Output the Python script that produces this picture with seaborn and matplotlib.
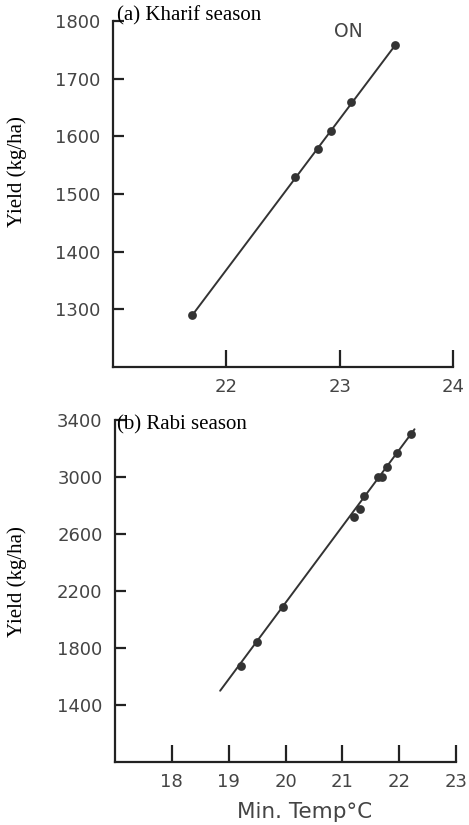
import matplotlib
matplotlib.use("Agg")
import matplotlib.pyplot as plt
import seaborn as sns
import pandas as pd

# Kharif season observations (min. temperature vs yield)
kharif_temp = [21.70, 22.61, 22.81, 22.92, 23.10, 23.49]
kharif_yield = [1290, 1529, 1578, 1609, 1659, 1758]
kharif_fit_temp = [21.70, 23.49]
kharif_fit_yield = [1290, 1758]

# Rabi season observations
rabi_temp = [19.21, 19.49, 19.96, 21.21, 21.31, 21.39, 21.62, 21.70, 21.79, 21.96, 22.20]
rabi_yield = [1672, 1839, 2090, 2717, 2773, 2864, 3003, 3003, 3073, 3170, 3303]
rabi_fit_temp = [18.85, 22.27]
rabi_fit_yield = [1500, 3335]

kharif_xticks = [22, 23, 24]
kharif_yticks = [1300, 1400, 1500, 1600, 1700, 1800]
rabi_xticks = [18, 19, 20, 21, 22, 23]
rabi_yticks = [1400, 1800, 2200, 2600, 3000, 3400]

sns.set_style("ticks")
plt.rcParams["font.family"] = ["DejaVu Sans"]

ink = "#333333"
W, H = 469, 825
fig = plt.figure(figsize=(W / 100, H / 100), dpi=100)
fig.patch.set_facecolor("white")


def px_axes(left, top, right, bottom):
    return fig.add_axes([left / W, 1 - bottom / H, (right - left) / W, (bottom - top) / H])


def style_axes(ax, xlim, ylim, xticks, yticks):
    ax.set_xlim(*xlim)
    ax.set_ylim(*ylim)
    ax.set_xticks(xticks)
    ax.set_yticks(yticks)
    for side in ("top", "right"):
        ax.spines[side].set_visible(False)
    for side in ("left", "bottom"):
        ax.spines[side].set_linewidth(1.6)
        ax.spines[side].set_color("#222222")
    ax.tick_params(axis="x", direction="in", length=12, width=1.6, color="#222222",
                   pad=8, labelsize=13, labelcolor="#444444")
    ax.tick_params(axis="y", direction="in", length=8, width=1.6, color="#222222",
                   pad=9, labelsize=13, labelcolor="#444444")
    ax.set_xlabel("")
    ax.set_ylabel("")
    ax.set_facecolor("white")


# (a) Kharif season
ax1 = px_axes(113, 21, 453, 367)
kharif_fit = pd.DataFrame({"temp": kharif_fit_temp, "yield": kharif_fit_yield})
kharif_obs = pd.DataFrame({"temp": kharif_temp, "yield": kharif_yield})
sns.lineplot(data=kharif_fit, x="temp", y="yield", ax=ax1, color=ink, linewidth=1.4)
sns.scatterplot(data=kharif_obs, x="temp", y="yield", ax=ax1, color=ink, s=40,
                edgecolor=ink, linewidth=0, zorder=3)
style_axes(ax1, (21, 24), (1200, 1800), kharif_xticks, kharif_yticks)
ax1.text(23.08, 1781, "ON", fontsize=13.5, color="#444444", ha="center", va="center")

# (b) Rabi season
ax2 = px_axes(115, 420, 456, 762)
rabi_fit = pd.DataFrame({"temp": rabi_fit_temp, "yield": rabi_fit_yield})
rabi_obs = pd.DataFrame({"temp": rabi_temp, "yield": rabi_yield})
sns.lineplot(data=rabi_fit, x="temp", y="yield", ax=ax2, color=ink, linewidth=1.4)
sns.scatterplot(data=rabi_obs, x="temp", y="yield", ax=ax2, color=ink, s=40,
                edgecolor=ink, linewidth=0, zorder=3)
style_axes(ax2, (17, 23), (1000, 3400), rabi_xticks, rabi_yticks)

# Panel titles and axis labels
serif = ["Liberation Serif", "DejaVu Serif"]
fig.text(117 / W, 1 - 16 / H, "(a) Kharif season", family=serif, fontsize=15,
         color="black", ha="left", va="center")
fig.text(117 / W, 1 - 425 / H, "(b) Rabi season", family=serif, fontsize=15,
         color="black", ha="left", va="center")
fig.text(17 / W, 1 - 172 / H, "Yield (kg/ha)", family=serif, fontsize=15,
         color="black", rotation=90, ha="center", va="center")
fig.text(17 / W, 1 - 582 / H, "Yield (kg/ha)", family=serif, fontsize=15,
         color="black", rotation=90, ha="center", va="center")
fig.text(305 / W, 1 - 812 / H, "Min. Temp°C", fontsize=15.5, color="#444444",
         ha="center", va="center")

fig.savefig("out.png", dpi=100, facecolor="white")
